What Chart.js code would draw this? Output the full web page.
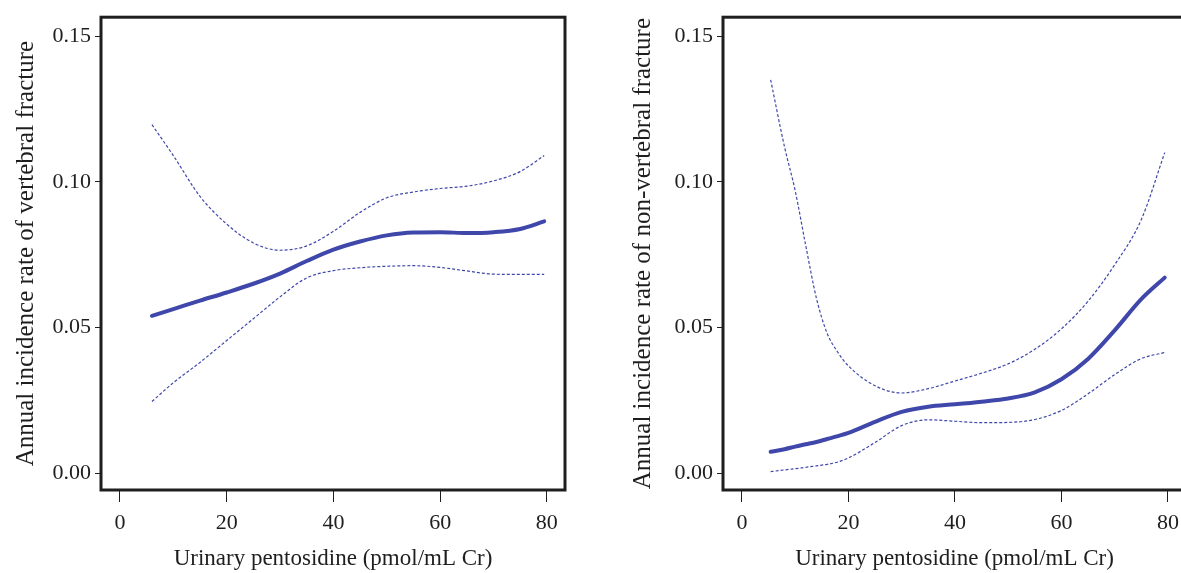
<!DOCTYPE html>
<html>
<head>
<meta charset="utf-8">
<script src="https://cdn.jsdelivr.net/npm/chart.js@4/dist/chart.umd.min.js"></script>
<style>
  html, body { margin: 0; padding: 0; background: #fff; overflow: hidden; }
  body { width: 1181px; height: 573px; position: relative; }
  canvas { position: absolute; top: 0; }
  #left { left: 0; }
  #right { left: 612px; }
</style>
</head>
<body>
<canvas id="left" width="590" height="573"></canvas>
<canvas id="right" width="600" height="573"></canvas>
<script>
// axis ticks
var xTicks = [0, 20, 40, 60, 80];
var yTicks = [0, 0.05, 0.10, 0.15];
var xTitle = 'Urinary pentosidine (pmol/mL Cr)';

// left panel: vertebral fracture
var vertX     = [6, 10, 15, 20, 25, 30, 35, 40, 45, 50, 55, 60, 65, 70, 75, 79.5];
var vertRate  = [0.054, 0.0563, 0.0592, 0.062, 0.065, 0.0685, 0.0728, 0.0767, 0.0795, 0.0816, 0.0826, 0.0827, 0.0824, 0.0827, 0.0838, 0.0864];
var vertUpper = [0.1196, 0.109, 0.095, 0.0855, 0.079, 0.0765, 0.078, 0.083, 0.0895, 0.0945, 0.0965, 0.0977, 0.0985, 0.1003, 0.1035, 0.109];
var vertLower = [0.0246, 0.031, 0.038, 0.0455, 0.053, 0.0605, 0.067, 0.0695, 0.0705, 0.071, 0.0712, 0.0706, 0.0694, 0.0683, 0.0682, 0.0682];

// right panel: non-vertebral fracture
var nonX     = [5.4, 8, 10, 12, 14, 16, 18, 20, 25, 30, 35, 40, 45, 50, 55, 60, 65, 70, 75, 79.4];
var nonRate  = [0.0073, 0.0082, 0.0091, 0.0099, 0.0107, 0.0117, 0.0127, 0.0138, 0.0176, 0.021, 0.0228, 0.0236, 0.0245, 0.0256, 0.0277, 0.0322, 0.0392, 0.049, 0.0597, 0.0671];
var nonUpper = [0.135, 0.112, 0.097, 0.078, 0.060, 0.048, 0.0415, 0.0368, 0.030, 0.0275, 0.029, 0.0316, 0.0343, 0.0375, 0.0425, 0.0495, 0.059, 0.0715, 0.087, 0.110];
var nonLower = [0.0005, 0.0011, 0.0015, 0.002, 0.0025, 0.003, 0.0038, 0.0052, 0.0105, 0.0163, 0.0183, 0.0178, 0.0173, 0.0174, 0.0184, 0.0215, 0.0272, 0.0338, 0.0393, 0.0414];

var ink = '#1e1e1e';
var blue = '#3f48aa';
var serif = "'Liberation Serif', 'Times New Roman', serif";

function pts(xs, ys) {
  return xs.map(function (x, i) { return { x: x, y: ys[i] }; });
}

// draws the closed box round the plot area
var frame = {
  id: 'frame',
  afterDraw: function (chart) {
    var a = chart.chartArea, ctx = chart.ctx;
    ctx.save();
    ctx.strokeStyle = ink;
    ctx.lineWidth = 3;
    ctx.strokeRect(a.left, a.top, a.right - a.left, a.bottom - a.top);
    ctx.restore();
  }
};

function makeChart(id, xs, rate, upper, lower, yTitle, axisW, titlePad, padRight) {
  var dashed = {
    borderColor: blue, borderWidth: 1.2, borderDash: [3, 2],
    pointRadius: 0, fill: false, cubicInterpolationMode: 'monotone'
  };
  return new Chart(document.getElementById(id), {
    type: 'line',
    data: {
      datasets: [
        Object.assign({ data: pts(xs, upper) }, dashed),
        Object.assign({ data: pts(xs, lower) }, dashed),
        { data: pts(xs, rate), borderColor: blue, borderWidth: 4, pointRadius: 0,
          fill: false, cubicInterpolationMode: 'monotone', borderCapStyle: 'round' }
      ]
    },
    options: {
      responsive: false,
      animation: false,
      layout: { padding: { left: 0, top: 15, right: padRight, bottom: 0 } },
      plugins: { legend: { display: false }, tooltip: { enabled: false } },
      scales: {
        x: {
          type: 'linear', min: -3.55, max: 83.4,
          afterBuildTicks: function (s) { s.ticks = xTicks.map(function (v) { return { value: v }; }); },
          afterFit: function (s) { s.height = 83; },
          grid: { drawOnChartArea: false, drawTicks: true, tickLength: 12, tickColor: ink, tickWidth: 1 },
          border: { display: false },
          ticks: { color: ink, padding: 8, font: { family: serif, size: 22 } },
          title: { display: true, text: xTitle, color: ink, padding: { top: 0, bottom: 0 },
                   font: { family: serif, size: 23 } }
        },
        y: {
          type: 'linear', min: -0.0058, max: 0.1565,
          afterBuildTicks: function (s) { s.ticks = yTicks.map(function (v) { return { value: v }; }); },
          afterFit: function (s) { s.width = axisW; },
          grid: { drawOnChartArea: false, drawTicks: true, tickLength: 6, tickColor: ink, tickWidth: 1 },
          border: { display: false },
          ticks: { color: ink, padding: 4, font: { family: serif, size: 22 },
                   callback: function (v) { return v.toFixed(2); } },
          title: { display: true, text: yTitle, color: ink, padding: { top: titlePad, bottom: 0 },
                   font: { family: serif, size: 25 } }
        }
      }
    },
    plugins: [frame]
  });
}

makeChart('left', vertX, vertRate, vertUpper, vertLower,
  'Annual incidence rate of vertebral fracture', 101, 11, 25);
makeChart('right', nonX, nonRate, nonUpper, nonLower,
  'Annual incidence rate of non-vertebral fracture', 111, 16, 26);
</script>
</body>
</html>
